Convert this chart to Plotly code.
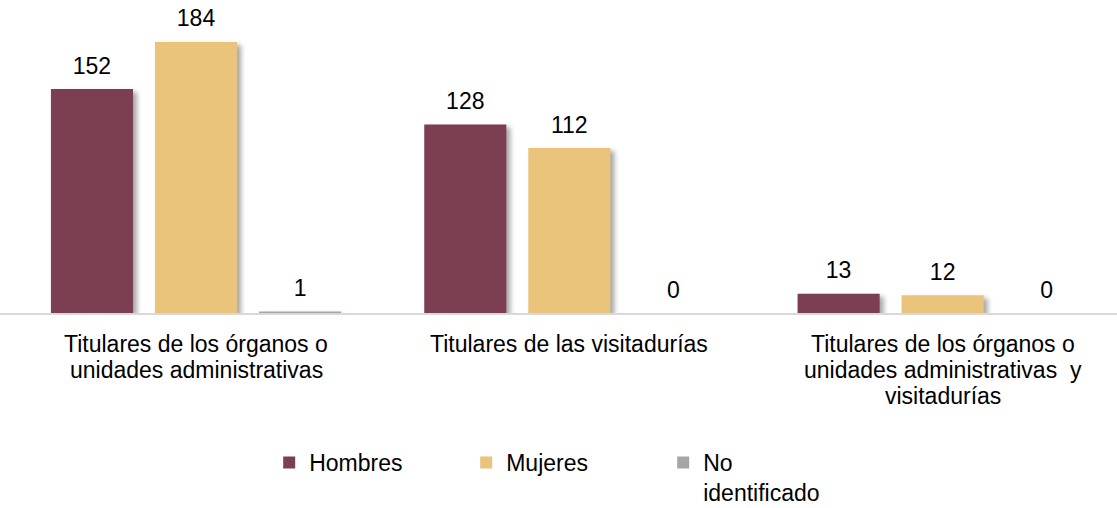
import plotly.graph_objects as go

categories = [
    "Titulares de los órganos o unidades administrativas",
    "Titulares de las visitadurías",
    "Titulares de los órganos o unidades administrativas  y visitadurías",
]
category_lines = [
    ["Titulares de los órganos o", "unidades administrativas"],
    ["Titulares de las visitadurías"],
    ["Titulares de los órganos o", "unidades administrativas  y", "visitadurías"],
]
series_names = ["Hombres", "Mujeres", "No<br>identificado"]
hombres = [152, 128, 13]
mujeres = [184, 112, 12]
no_identificado = [1, 0, 0]
series_values = [hombres, mujeres, no_identificado]
colors = ["#7C3E51", "#E9C47A", "#A6A6A6"]

FONT = "Liberation Sans, Arial, sans-serif"
FS = 23

fig = go.Figure()
for name, vals, col in zip(series_names, series_values, colors):
    fig.add_trace(go.Bar(
        x=categories, y=vals, name=name,
        marker=dict(color=col, line=dict(width=0)),
        hoverinfo="skip",
    ))
# value labels, grouped like the bars
for name, vals in zip(series_names, series_values):
    fig.add_trace(go.Scatter(
        x=categories, y=vals, mode="markers+text",
        text=[str(v) for v in vals], textposition="top center",
        textfont=dict(family=FONT, size=FS, color="#000000"),
        marker=dict(size=14, color="rgba(0,0,0,0)"),
        showlegend=False, hoverinfo="skip", cliponaxis=False,
    ))

annotations = []
for cat, lines in zip(categories, category_lines):
    for k, line in enumerate(lines):
        annotations.append(dict(
            x=cat, y=0, xref="x", yref="y", text=line, showarrow=False,
            yanchor="middle", xanchor="center", yshift=-(31 + 26 * k),
            font=dict(family=FONT, size=FS, color="#000000"),
        ))

fig.update_layout(
    width=1117, height=508,
    margin=dict(l=0, r=0, t=0, b=195, pad=0),
    paper_bgcolor="white", plot_bgcolor="white",
    barmode="group", bargap=0.164, bargroupgap=0.211,
    scattermode="group", scattergap=0.164,
    font=dict(family=FONT, size=FS, color="#000000"),
    xaxis=dict(
        type="category", range=[-0.525, 2.467],
        showticklabels=False, ticks="", showgrid=False,
        showline=True, linecolor="#D9D9D9", linewidth=1.5,
        zeroline=False, fixedrange=True,
    ),
    yaxis=dict(
        range=[0, 212.5], visible=False, showgrid=False, zeroline=False,
        fixedrange=True,
    ),
    legend=dict(
        orientation="h", x=0.241, xanchor="left", y=0.132, yanchor="top",
        yref="container", xref="container",
        font=dict(family=FONT, size=FS, color="#000000"),
        entrywidth=152, entrywidthmode="pixels", valign="top",
        traceorder="normal", bgcolor="rgba(0,0,0,0)",
    ),
    annotations=annotations,
    showlegend=True,
    hovermode=False,
)

post = """
document.body.style.margin = '0';
document.body.style.padding = '0';
document.querySelectorAll('.barlayer .point path').forEach(function(p){
  p.style.filter = 'drop-shadow(4px 3px 2.5px rgba(0,0,0,0.35))';
});
"""
fig.write_html("out.html", post_script=post,
               config={"displayModeBar": False, "staticPlot": True})
